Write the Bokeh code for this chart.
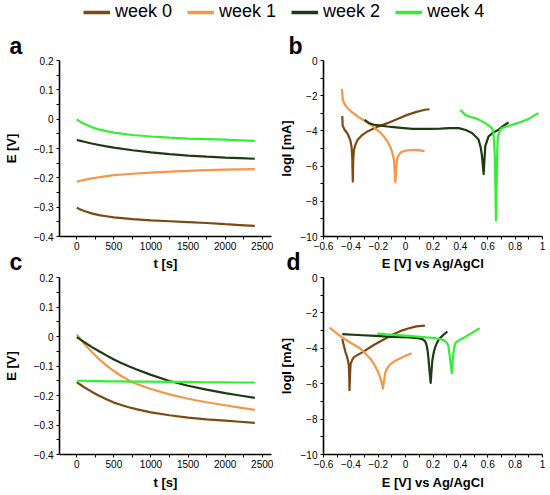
from bokeh.plotting import figure
from bokeh.layouts import column, row
from bokeh.models import (Range1d, FixedTicker, CustomJSTickFormatter, Title,
                          Legend, LegendItem)
from bokeh.embed import file_html
from bokeh.resources import INLINE

FONT = "Liberation Sans"

series_names = ["week 0", "week 1", "week 2", "week 4"]
colors = ["#7B4A12", "#F79646", "#1F3A12", "#33EE33"]

# ---------------- panel a : OCP vs time ----------------
t_a = [0, 50, 100, 200, 300, 400, 500, 750, 1000, 1250, 1500, 1750, 2000, 2200, 2400]
a_week0 = [-0.302, -0.308, -0.313, -0.321, -0.327, -0.331, -0.335, -0.341, -0.345,
           -0.348, -0.351, -0.354, -0.358, -0.361, -0.364]
a_week1 = [-0.213, -0.210, -0.207, -0.202, -0.198, -0.194, -0.191, -0.186, -0.182,
           -0.179, -0.176, -0.174, -0.172, -0.171, -0.170]
a_week2 = [-0.071, -0.074, -0.077, -0.083, -0.088, -0.093, -0.097, -0.106, -0.113,
           -0.119, -0.124, -0.128, -0.131, -0.133, -0.135]
a_week4 = [-0.001, -0.009, -0.016, -0.027, -0.035, -0.041, -0.046, -0.054, -0.059,
           -0.063, -0.066, -0.068, -0.070, -0.072, -0.074]

# ---------------- panel c : OCP vs time ----------------
t_c = [0, 100, 200, 300, 400, 500, 600, 700, 800, 1000, 1250, 1500, 1750, 2000, 2200, 2400]
c_week0 = [-0.155, -0.172, -0.187, -0.201, -0.213, -0.224, -0.232, -0.240, -0.246,
           -0.257, -0.267, -0.275, -0.281, -0.285, -0.289, -0.293]
c_week1 = [0.007, -0.025, -0.052, -0.077, -0.098, -0.117, -0.134, -0.148, -0.160,
           -0.178, -0.196, -0.211, -0.223, -0.233, -0.241, -0.249]
c_week2 = [-0.002, -0.019, -0.035, -0.050, -0.064, -0.078, -0.090, -0.101, -0.111,
           -0.130, -0.151, -0.167, -0.180, -0.192, -0.200, -0.208]
c_week4 = [-0.150, -0.150, -0.151, -0.151, -0.152, -0.152, -0.152, -0.153, -0.153,
           -0.153, -0.154, -0.154, -0.155, -0.155, -0.156, -0.156]

# ---------------- panel b : Tafel curves ----------------
b_week0_E = [-0.463, -0.460, -0.445, -0.425, -0.405, -0.395, -0.390, -0.386, -0.383,
             -0.378, -0.365, -0.350, -0.320, -0.279, -0.210, -0.133, -0.060, 0.012,
             0.080, 0.140, 0.175]
b_week0_I = [-3.15, -3.70, -3.95, -4.15, -4.50, -4.90, -5.50, -6.88, -5.70, -5.10,
             -4.75, -4.50, -4.25, -4.03, -3.78, -3.56, -3.32, -3.09, -2.92, -2.80, -2.77]
b_week1_E = [-0.465, -0.463, -0.458, -0.445, -0.424, -0.390, -0.351, -0.300, -0.255,
             -0.215, -0.182, -0.155, -0.133, -0.110, -0.097, -0.085, -0.075, -0.068,
             -0.060, -0.036, 0.012, 0.085, 0.138]
b_week1_I = [-1.62, -1.90, -2.25, -2.50, -2.71, -2.95, -3.18, -3.42, -3.65, -3.90,
             -4.12, -4.35, -4.59, -4.95, -5.24, -5.65, -6.93, -6.00, -5.52, -5.21,
             -5.10, -5.08, -5.15]
b_week2_E = [-0.300, -0.270, -0.230, -0.180, -0.133, -0.070, -0.012, 0.050, 0.109,
             0.180, 0.255, 0.320, 0.388, 0.440, 0.485, 0.533, 0.550, 0.558, 0.570,
             0.577, 0.582, 0.606, 0.640, 0.679, 0.715, 0.752]
b_week2_I = [-3.37, -3.55, -3.65, -3.70, -3.75, -3.80, -3.84, -3.88, -3.89, -3.88,
             -3.87, -3.84, -3.84, -3.95, -4.12, -4.49, -5.00, -5.43, -6.46, -5.50,
             -4.87, -4.31, -4.10, -3.93, -3.70, -3.52]
b_week4_E = [0.400, 0.436, 0.470, 0.509, 0.545, 0.582, 0.610, 0.630, 0.642, 0.652,
             0.660, 0.666, 0.670, 0.674, 0.690, 0.703, 0.750, 0.800, 0.850, 0.897,
             0.940, 0.970]
b_week4_I = [-2.81, -3.09, -3.20, -3.28, -3.40, -3.56, -3.72, -3.84, -4.12, -5.50,
             -9.08, -6.50, -5.00, -4.31, -3.95, -3.84, -3.72, -3.60, -3.47, -3.33,
             -3.12, -3.00]

# ---------------- panel d : Tafel curves ----------------
d_week0_E = [-0.463, -0.450, -0.440, -0.427, -0.420, -0.415, -0.412, -0.410, -0.406,
             -0.402, -0.390, -0.378, -0.350, -0.317, -0.270, -0.220, -0.160, -0.098,
             -0.040, 0.024, 0.080, 0.141]
d_week0_I = [-3.48, -3.90, -4.20, -4.50, -4.75, -4.97, -5.60, -6.37, -5.50, -4.88,
             -4.65, -4.50, -4.37, -4.23, -4.00, -3.76, -3.50, -3.24, -3.03, -2.87,
             -2.76, -2.72]
d_week1_E = [-0.556, -0.510, -0.463, -0.400, -0.341, -0.300, -0.256, -0.230, -0.207,
             -0.190, -0.176, -0.166, -0.158, -0.150, -0.141, -0.125, -0.110, -0.080,
             -0.049, 0.000, 0.044]
d_week1_I = [-2.83, -3.12, -3.39, -3.70, -3.95, -4.25, -4.60, -4.90, -5.25, -5.55,
             -5.90, -6.28, -5.85, -5.40, -5.22, -5.02, -4.88, -4.72, -4.60, -4.42, -4.28]
d_week2_E = [-0.463, -0.350, -0.220, -0.100, 0.024, 0.090, 0.122, 0.142, 0.151, 0.160,
             0.166, 0.175, 0.183, 0.190, 0.195, 0.205, 0.215, 0.230, 0.244, 0.275, 0.305]
d_week2_I = [-3.20, -3.25, -3.30, -3.35, -3.39, -3.43, -3.48, -3.60, -3.76, -4.10,
             -4.50, -5.30, -5.96, -5.20, -4.69, -4.25, -3.95, -3.68, -3.48, -3.25, -3.05]
d_week4_E = [-0.207, -0.100, 0.024, 0.120, 0.220, 0.260, 0.288, 0.302, 0.312, 0.325,
             0.337, 0.345, 0.354, 0.366, 0.400, 0.439, 0.490, 0.541]
d_week4_I = [-3.17, -3.24, -3.30, -3.36, -3.43, -3.49, -3.58, -3.70, -3.85, -4.60,
             -5.40, -4.60, -3.95, -3.67, -3.50, -3.35, -3.10, -2.87]

# ---------------- axes / ticks ----------------
t_range = (-233, 2625)
t_ticks = [0, 500, 1000, 1500, 2000, 2500]
t_minor = [250, 750, 1250, 1750, 2250]
E_range = (-0.4, 0.2)
E_ticks = [-0.4, -0.3, -0.2, -0.1, 0.0, 0.1, 0.2]
E_minor = [-0.35, -0.25, -0.15, -0.05, 0.05, 0.15]
V_range = (-0.6, 1.0)
V_ticks = [-0.6, -0.4, -0.2, 0.0, 0.2, 0.4, 0.6, 0.8, 1.0]
V_minor = [-0.5, -0.3, -0.1, 0.1, 0.3, 0.5, 0.7, 0.9]
I_range = (-10, 0)
I_ticks = [-10, -8, -6, -4, -2, 0]
I_minor = [-9, -7, -5, -3, -1]

FMT_CODE = """
const v = Number(tick.toFixed(2));
return String(v).replace('-', '\u2212');
"""


def style_axes(p, xlabel, ylabel, ylabel_standoff, xlabel_standoff):
    for ax in (p.xaxis[0], p.yaxis[0]):
        ax.axis_line_width = 1.6
        ax.axis_line_color = "black"
        ax.major_tick_in = 0
        ax.major_tick_out = 3
        ax.minor_tick_in = 0
        ax.minor_tick_out = 3
        ax.major_tick_line_color = "black"
        ax.minor_tick_line_color = "black"
        ax.major_tick_line_width = 1
        ax.minor_tick_line_width = 1
        ax.major_label_text_font = FONT
        ax.major_label_text_font_size = "10px"
        ax.major_label_text_color = "black"
        ax.axis_label_text_font = FONT
        ax.axis_label_text_font_size = "13px"
        ax.axis_label_text_font_style = "bold"
        ax.axis_label_text_color = "black"
        ax.formatter = CustomJSTickFormatter(code=FMT_CODE)
    p.xaxis[0].axis_label = xlabel
    p.yaxis[0].axis_label = ylabel
    p.xaxis[0].major_label_standoff = 2
    p.yaxis[0].major_label_standoff = 3
    p.xaxis[0].axis_label_standoff = xlabel_standoff
    p.yaxis[0].axis_label_standoff = ylabel_standoff


def make_panel(width, height, xr, yr, xt, xm, yt, ym, bl, bt, bb, br,
               xlabel, ylabel, ylab_so, xlab_so):
    p = figure(width=width, height=height, x_range=Range1d(*xr), y_range=Range1d(*yr),
               toolbar_location=None, output_backend="svg",
               min_border_left=bl, min_border_top=bt, min_border_bottom=bb,
               min_border_right=br)
    p.outline_line_color = None
    p.grid.visible = False
    p.background_fill_color = "white"
    p.border_fill_color = "white"
    p.xaxis[0].ticker = FixedTicker(ticks=xt, minor_ticks=xm)
    p.yaxis[0].ticker = FixedTicker(ticks=yt, minor_ticks=ym)
    style_axes(p, xlabel, ylabel, ylab_so, xlab_so)
    return p


def letter(p, text, side, offset, standoff):
    p.add_layout(Title(text=text, align="left", vertical_align="top",
                       offset=offset, standoff=standoff,
                       text_font=FONT, text_font_style="bold",
                       text_font_size="23px", text_color="black"), side)


ROW1_H = 251   # page 22 -> 273
ROW2_H = 222   # page 273 -> 495
W_LEFT = 275
W_RIGHT = 275

pa = make_panel(W_LEFT, ROW1_H, t_range, E_range, t_ticks, t_minor, E_ticks, E_minor,
                57, 38, 34, 4, "t [s]", "E [V]", 12, 3)
pb = make_panel(W_RIGHT, ROW1_H, V_range, I_range, V_ticks, V_minor, I_ticks, I_minor,
                47, 38, 34, 8, "E [V] vs Ag/AgCl", "logI [mA]", 4, 3)
pc = make_panel(W_LEFT, ROW2_H, t_range, E_range, t_ticks, t_minor, E_ticks, E_minor,
                57, 4, 41, 4, "t [s]", "E [V]", 12, 4)
pd = make_panel(W_RIGHT, ROW2_H, V_range, I_range, V_ticks, V_minor, I_ticks, I_minor,
                47, 4, 41, 8, "E [V] vs Ag/AgCl", "logI [mA]", 4, 4)

a_series = [a_week0, a_week1, a_week2, a_week4]
c_series = [c_week0, c_week1, c_week2, c_week4]
b_series = [(b_week0_E, b_week0_I), (b_week1_E, b_week1_I),
            (b_week2_E, b_week2_I), (b_week4_E, b_week4_I)]
d_series = [(d_week0_E, d_week0_I), (d_week1_E, d_week1_I),
            (d_week2_E, d_week2_I), (d_week4_E, d_week4_I)]

for ys, col in zip(a_series, colors):
    pa.line(t_a, ys, line_color=col, line_width=2.2)
for ys, col in zip(c_series, colors):
    pc.line(t_c, ys, line_color=col, line_width=2.2)
for (xs, ys), col in zip(b_series, colors):
    pb.line(xs, ys, line_color=col, line_width=2.2, line_join="round")
for (xs, ys), col in zip(d_series, colors):
    pd.line(xs, ys, line_color=col, line_width=2.2, line_join="round")

# panel letters (a, b above their panels; c, d in the strip below row 1)
letter(pa, "a", "above", -50, 0)
letter(pb, "b", "above", -35, 0)
letter(pa, "c", "below", -50, -50)
letter(pb, "d", "below", -37, -50)

# ---------------- legend strip ----------------
# the strip's own ranges lie far from the data, so only the legend shows
pl = figure(width=550, height=22, x_range=Range1d(1e6, 1e6 + 1),
            y_range=Range1d(1e3, 1e3 + 1),
            toolbar_location=None, output_backend="svg", x_axis_type=None,
            y_axis_type=None, min_border=0)
pl.outline_line_color = None
pl.grid.visible = False
items = []
for name, col, ys in zip(series_names, colors, a_series):
    r = pl.line(t_a, ys, line_color=col, line_width=3.5)
    items.append(LegendItem(label=name, renderers=[r]))
leg = Legend(items=items, orientation="horizontal", location=(83, 0),
             glyph_width=27, glyph_height=20, label_standoff=5, spacing=15,
             padding=0, margin=0, border_line_color=None, background_fill_alpha=0,
             label_text_font=FONT, label_text_font_size="18px",
             label_text_color="black")
pl.add_layout(leg)

layout = column(pl, row(pa, pb), row(pc, pd), spacing=0)

open("out.html", "w").write(file_html(layout, INLINE))
